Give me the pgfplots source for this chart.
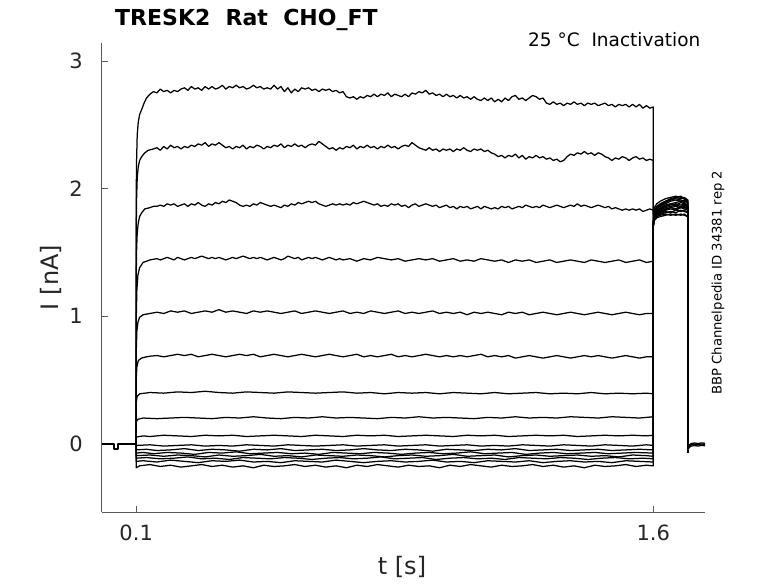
\documentclass[border=0pt]{standalone}
\usepackage{fontspec}
\setmainfont{DejaVu Sans}
\usepackage{pgfplots}
\pgfplotsset{compat=1.18}
\definecolor{axc}{RGB}{90,90,90}
\definecolor{txc}{RGB}{38,38,38}
\pgfplotscreateplotcyclelist{blk}{black,solid,mark=none,line width=1.25pt,line join=round\\}
\begin{document}
\begin{tikzpicture}
\useasboundingbox (0,0) rectangle (778pt,583pt);
\begin{axis}[
  at={(101.7pt,71pt)}, anchor=south west,
  scale only axis, width=603.3pt, height=468.7pt,
  xmin=0, xmax=1.75, ymin=-0.537, ymax=3.139,
  axis x line=bottom, axis y line=left,
  axis line style={draw=axc, line width=0.7pt, -},
  xtick={0.1,1.6}, ytick={0,1,2,3},
  xticklabels={0.1,1.6},
  tick align=inside, major tick length=6pt,
  tick style={draw=axc, line width=0.7pt},
  ticklabel style={font=\fontsize{21}{25}\selectfont, text=txc},
  xticklabel style={inner sep=0pt, yshift=-13pt},
  yticklabel style={inner sep=0pt, xshift=-18.7pt},
  /pgf/number format/assume math mode=true,
  cycle list name=blk,
]
% holding
\addplot+[line width=1.8pt] coordinates {(0,-0.005)(0.036,-0.005)(0.036,-0.045)(0.047,-0.045)(0.047,-0.005)(0.1,-0.005)};
% trace 1
\addplot coordinates {(0.1,0)(0.1,1.9)(0.101,2.2)(0.103,2.42)(0.106,2.52)(0.11,2.58)(0.116,2.62)(0.123,2.67)(0.13,2.71)(0.14,2.74)(0.15,2.76)
(0.16,2.75)(0.17,2.78)(0.18,2.76)(0.19,2.77)(0.20,2.75)(0.21,2.77)(0.22,2.76)(0.23,2.78)(0.24,2.79)(0.25,2.77)(0.26,2.80)(0.27,2.78)(0.28,2.79)(0.29,2.77)(0.30,2.80)(0.31,2.78)(0.32,2.80)(0.33,2.78)(0.34,2.79)(0.35,2.81)(0.36,2.78)(0.37,2.80)(0.38,2.79)(0.39,2.81)(0.40,2.79)(0.41,2.80)(0.42,2.78)(0.43,2.79)(0.44,2.81)(0.45,2.79)(0.46,2.80)(0.47,2.78)(0.48,2.79)(0.49,2.78)(0.50,2.81)(0.51,2.78)(0.52,2.80)(0.53,2.76)(0.54,2.79)(0.55,2.75)(0.56,2.78)(0.57,2.76)(0.58,2.79)(0.59,2.78)(0.60,2.79)(0.61,2.77)(0.62,2.78)(0.63,2.76)(0.64,2.78)(0.65,2.77)(0.66,2.78)(0.67,2.76)(0.68,2.77)(0.69,2.75)(0.70,2.76)(0.71,2.72)(0.72,2.71)(0.73,2.72)(0.74,2.70)(0.75,2.72)(0.76,2.71)(0.77,2.73)(0.78,2.72)(0.79,2.74)(0.80,2.72)(0.81,2.74)(0.82,2.73)(0.83,2.75)(0.84,2.72)(0.85,2.74)(0.86,2.73)(0.87,2.72)(0.88,2.74)(0.89,2.72)(0.90,2.75)(0.91,2.74)(0.92,2.76)(0.93,2.75)(0.94,2.77)(0.95,2.74)(0.96,2.75)(0.97,2.73)(0.98,2.74)(0.99,2.72)(1.00,2.74)(1.01,2.72)(1.02,2.73)(1.03,2.71)(1.04,2.73)(1.05,2.71)(1.06,2.72)(1.07,2.70)(1.08,2.72)(1.09,2.70)(1.10,2.69)(1.11,2.71)(1.12,2.69)(1.13,2.71)(1.14,2.68)(1.15,2.70)(1.16,2.68)(1.17,2.71)(1.18,2.69)(1.19,2.72)(1.20,2.73)(1.21,2.70)(1.22,2.71)(1.23,2.69)(1.24,2.71)(1.25,2.73)(1.26,2.72)(1.27,2.70)(1.28,2.71)(1.29,2.67)(1.30,2.66)(1.31,2.68)(1.32,2.66)(1.33,2.67)(1.34,2.65)(1.35,2.67)(1.36,2.66)(1.37,2.68)(1.38,2.66)(1.39,2.67)(1.40,2.65)(1.41,2.67)(1.42,2.66)(1.43,2.67)(1.44,2.65)(1.45,2.66)(1.46,2.67)(1.47,2.65)(1.48,2.66)(1.49,2.64)(1.50,2.66)(1.51,2.65)(1.52,2.66)(1.53,2.64)(1.54,2.66)(1.55,2.64)(1.56,2.66)(1.57,2.63)(1.58,2.65)(1.59,2.63)(1.60,2.64)
(1.6,1.80)(1.603,1.85)(1.61,1.88)(1.62,1.90)(1.635,1.92)(1.65,1.93)(1.665,1.94)(1.68,1.93)(1.69,1.92)(1.7,1.91)(1.7,-0.07)};
% trace 2
\addplot coordinates {(0.1,0)(0.1,1.6)(0.101,1.9)(0.103,2.08)(0.106,2.17)(0.11,2.22)(0.116,2.25)(0.125,2.28)(0.135,2.30)(0.15,2.31)
(0.16,2.32)(0.17,2.30)(0.18,2.33)(0.19,2.31)(0.20,2.34)(0.21,2.32)(0.22,2.33)(0.23,2.31)(0.24,2.33)(0.25,2.32)(0.26,2.34)(0.27,2.33)(0.28,2.35)(0.29,2.34)(0.30,2.36)(0.31,2.33)(0.32,2.35)(0.33,2.34)(0.34,2.36)(0.35,2.34)(0.36,2.32)(0.37,2.33)(0.38,2.31)(0.39,2.33)(0.40,2.32)(0.41,2.34)(0.42,2.31)(0.43,2.33)(0.44,2.32)(0.45,2.34)(0.46,2.33)(0.47,2.31)(0.48,2.33)(0.49,2.32)(0.50,2.34)(0.51,2.33)(0.52,2.35)(0.53,2.32)(0.54,2.34)(0.55,2.33)(0.56,2.35)(0.57,2.33)(0.58,2.34)(0.59,2.32)(0.60,2.34)(0.61,2.35)(0.62,2.34)(0.63,2.37)(0.64,2.35)(0.65,2.33)(0.66,2.31)(0.67,2.32)(0.68,2.30)(0.69,2.32)(0.70,2.31)(0.71,2.33)(0.72,2.32)(0.73,2.34)(0.74,2.31)(0.75,2.33)(0.76,2.32)(0.77,2.34)(0.78,2.32)(0.79,2.33)(0.80,2.31)(0.81,2.33)(0.82,2.32)(0.83,2.34)(0.84,2.32)(0.85,2.33)(0.86,2.31)(0.87,2.33)(0.88,2.34)(0.89,2.33)(0.90,2.36)(0.91,2.34)(0.92,2.32)(0.93,2.31)(0.94,2.30)(0.95,2.32)(0.96,2.30)(0.97,2.31)(0.98,2.29)(0.99,2.31)(1.00,2.30)(1.01,2.31)(1.02,2.29)(1.03,2.31)(1.04,2.30)(1.05,2.32)(1.06,2.30)(1.07,2.29)(1.08,2.31)(1.09,2.30)(1.10,2.31)(1.11,2.29)(1.12,2.30)(1.13,2.28)(1.14,2.27)(1.15,2.25)(1.16,2.26)(1.17,2.24)(1.18,2.26)(1.19,2.25)(1.20,2.27)(1.21,2.24)(1.22,2.26)(1.23,2.23)(1.24,2.25)(1.25,2.24)(1.26,2.26)(1.27,2.24)(1.28,2.25)(1.29,2.23)(1.30,2.24)(1.31,2.22)(1.32,2.23)(1.33,2.21)(1.34,2.22)(1.35,2.25)(1.36,2.27)(1.37,2.26)(1.38,2.28)(1.39,2.27)(1.40,2.29)(1.41,2.27)(1.42,2.28)(1.43,2.26)(1.44,2.28)(1.45,2.27)(1.46,2.25)(1.47,2.24)(1.48,2.22)(1.49,2.24)(1.50,2.23)(1.51,2.25)(1.52,2.24)(1.53,2.22)(1.54,2.24)(1.55,2.25)(1.56,2.23)(1.57,2.24)(1.58,2.22)(1.59,2.23)(1.60,2.22)
(1.6,1.78)(1.603,1.83)(1.61,1.86)(1.62,1.88)(1.635,1.90)(1.65,1.91)(1.665,1.92)(1.68,1.91)(1.69,1.90)(1.7,1.89)(1.7,-0.07)};
% trace 3
\addplot coordinates {(0.1,0)(0.1,1.25)(0.101,1.5)(0.103,1.65)(0.106,1.73)(0.11,1.78)(0.116,1.81)(0.125,1.84)(0.14,1.85)(0.15,1.86)
(0.16,1.86)(0.17,1.87)(0.18,1.86)(0.19,1.88)(0.20,1.87)(0.21,1.88)(0.22,1.86)(0.23,1.87)(0.24,1.88)(0.25,1.86)(0.26,1.88)(0.27,1.87)(0.28,1.89)(0.29,1.87)(0.30,1.86)(0.31,1.88)(0.32,1.87)(0.33,1.89)(0.34,1.88)(0.35,1.90)(0.36,1.89)(0.37,1.91)(0.38,1.90)(0.39,1.89)(0.40,1.87)(0.41,1.86)(0.42,1.87)(0.43,1.86)(0.44,1.88)(0.45,1.87)(0.46,1.89)(0.47,1.88)(0.48,1.87)(0.49,1.86)(0.50,1.87)(0.51,1.86)(0.52,1.85)(0.53,1.87)(0.54,1.86)(0.55,1.88)(0.56,1.87)(0.57,1.89)(0.58,1.88)(0.59,1.89)(0.60,1.90)(0.61,1.89)(0.62,1.90)(0.63,1.88)(0.64,1.87)(0.65,1.86)(0.66,1.87)(0.67,1.88)(0.68,1.87)(0.69,1.88)(0.70,1.87)(0.71,1.88)(0.72,1.87)(0.73,1.89)(0.74,1.88)(0.75,1.89)(0.76,1.90)(0.77,1.89)(0.78,1.88)(0.79,1.87)(0.80,1.88)(0.81,1.86)(0.82,1.87)(0.83,1.86)(0.84,1.88)(0.85,1.87)(0.86,1.88)(0.87,1.86)(0.88,1.87)(0.89,1.85)(0.90,1.87)(0.91,1.88)(0.92,1.86)(0.93,1.87)(0.94,1.88)(0.95,1.87)(0.96,1.86)(0.97,1.87)(0.98,1.85)(0.99,1.86)(1.00,1.87)(1.01,1.85)(1.02,1.86)(1.03,1.84)(1.04,1.86)(1.05,1.85)(1.06,1.86)(1.07,1.84)(1.08,1.85)(1.09,1.86)(1.10,1.84)(1.11,1.86)(1.12,1.85)(1.13,1.84)(1.14,1.85)(1.15,1.84)(1.16,1.86)(1.17,1.85)(1.18,1.86)(1.19,1.84)(1.20,1.85)(1.21,1.86)(1.22,1.85)(1.23,1.87)(1.24,1.86)(1.25,1.85)(1.26,1.86)(1.27,1.85)(1.28,1.87)(1.29,1.86)(1.30,1.85)(1.31,1.86)(1.32,1.87)(1.33,1.86)(1.34,1.85)(1.35,1.86)(1.36,1.87)(1.37,1.86)(1.38,1.88)(1.39,1.86)(1.40,1.87)(1.41,1.86)(1.42,1.85)(1.43,1.86)(1.44,1.87)(1.45,1.86)(1.46,1.85)(1.47,1.86)(1.48,1.84)(1.49,1.85)(1.50,1.84)(1.51,1.83)(1.52,1.84)(1.53,1.83)(1.54,1.84)(1.55,1.83)(1.56,1.84)(1.57,1.82)(1.58,1.83)(1.59,1.84)(1.60,1.83)
(1.6,1.76)(1.603,1.81)(1.61,1.85)(1.62,1.87)(1.635,1.90)(1.65,1.92)(1.665,1.93)(1.68,1.94)(1.69,1.92)(1.7,1.90)(1.7,-0.07)};
% trace 4
\addplot coordinates {(0.1,0)(0.1,0.95)(0.102,1.2)(0.105,1.32)(0.11,1.38)(0.12,1.42)(0.13,1.43)(0.14,1.44)
(0.16,1.45)(0.17,1.44)(0.18,1.45)(0.19,1.46)(0.20,1.45)(0.21,1.44)(0.22,1.46)(0.23,1.45)(0.24,1.44)(0.25,1.45)(0.26,1.46)(0.27,1.45)(0.28,1.46)(0.29,1.47)(0.30,1.46)(0.31,1.45)(0.32,1.46)(0.33,1.45)(0.34,1.46)(0.35,1.45)(0.36,1.44)(0.37,1.45)(0.38,1.46)(0.39,1.45)(0.40,1.46)(0.41,1.47)(0.42,1.46)(0.43,1.45)(0.44,1.46)(0.45,1.45)(0.46,1.46)(0.47,1.45)(0.48,1.44)(0.49,1.45)(0.50,1.46)(0.51,1.45)(0.52,1.44)(0.53,1.45)(0.54,1.47)(0.55,1.46)(0.56,1.45)(0.57,1.46)(0.58,1.44)(0.59,1.45)(0.60,1.46)(0.61,1.45)(0.62,1.46)(0.63,1.45)(0.64,1.44)(0.65,1.45)(0.66,1.46)(0.67,1.45)(0.68,1.44)(0.69,1.45)(0.70,1.44)(0.72,1.45)(0.74,1.43)(0.76,1.45)(0.78,1.44)(0.80,1.46)(0.82,1.45)(0.84,1.44)(0.86,1.45)(0.88,1.43)(0.90,1.44)(0.92,1.45)(0.94,1.44)(0.96,1.45)(0.98,1.43)(1.00,1.44)(1.02,1.45)(1.04,1.43)(1.06,1.44)(1.08,1.43)(1.10,1.45)(1.12,1.44)(1.14,1.43)(1.16,1.44)(1.18,1.42)(1.20,1.44)(1.22,1.43)(1.24,1.44)(1.26,1.42)(1.28,1.43)(1.30,1.44)(1.32,1.42)(1.34,1.43)(1.36,1.44)(1.38,1.43)(1.40,1.42)(1.42,1.44)(1.44,1.43)(1.46,1.42)(1.48,1.43)(1.50,1.44)(1.52,1.42)(1.54,1.43)(1.56,1.44)(1.58,1.42)(1.60,1.43)
(1.6,1.74)(1.603,1.79)(1.61,1.82)(1.62,1.84)(1.635,1.86)(1.65,1.87)(1.665,1.88)(1.68,1.87)(1.69,1.88)(1.7,1.86)(1.7,-0.07)};
% trace 5
\addplot coordinates {(0.1,0)(0.1,0.7)(0.102,0.88)(0.105,0.95)(0.11,0.99)(0.12,1.01)(0.14,1.02)
(0.16,1.03)(0.18,1.02)(0.20,1.04)(0.22,1.03)(0.24,1.04)(0.26,1.02)(0.28,1.03)(0.30,1.04)(0.32,1.03)(0.34,1.05)(0.36,1.03)(0.38,1.04)(0.40,1.03)(0.42,1.02)(0.44,1.04)(0.46,1.03)(0.48,1.04)(0.50,1.03)(0.52,1.02)(0.54,1.03)(0.56,1.04)(0.58,1.02)(0.60,1.03)(0.62,1.04)(0.64,1.03)(0.66,1.02)(0.68,1.03)(0.70,1.04)(0.72,1.02)(0.74,1.03)(0.76,1.02)(0.78,1.04)(0.80,1.03)(0.82,1.02)(0.84,1.03)(0.86,1.04)(0.88,1.02)(0.90,1.03)(0.92,1.02)(0.94,1.03)(0.96,1.04)(0.98,1.02)(1.00,1.03)(1.02,1.02)(1.04,1.03)(1.06,1.01)(1.08,1.03)(1.10,1.02)(1.12,1.03)(1.14,1.02)(1.16,1.01)(1.18,1.03)(1.20,1.02)(1.22,1.03)(1.24,1.01)(1.26,1.02)(1.28,1.03)(1.30,1.02)(1.32,1.01)(1.34,1.02)(1.36,1.03)(1.38,1.02)(1.40,1.01)(1.42,1.02)(1.44,1.03)(1.46,1.02)(1.48,1.01)(1.50,1.02)(1.52,1.03)(1.54,1.02)(1.56,1.01)(1.58,1.02)(1.60,1.02)
(1.6,1.72)(1.603,1.77)(1.61,1.80)(1.62,1.82)(1.635,1.83)(1.65,1.85)(1.665,1.84)(1.68,1.86)(1.69,1.85)(1.7,1.84)(1.7,-0.07)};
% trace 6
\addplot coordinates {(0.1,0)(0.1,0.5)(0.102,0.6)(0.106,0.65)(0.115,0.67)(0.13,0.68)
(0.14,0.685)(0.16,0.69)(0.18,0.68)(0.20,0.69)(0.22,0.70)(0.24,0.69)(0.26,0.70)(0.28,0.68)(0.30,0.69)(0.32,0.70)(0.34,0.69)(0.36,0.68)(0.38,0.69)(0.40,0.70)(0.42,0.69)(0.44,0.70)(0.46,0.68)(0.48,0.69)(0.50,0.70)(0.52,0.69)(0.54,0.68)(0.56,0.69)(0.58,0.70)(0.60,0.69)(0.62,0.68)(0.64,0.69)(0.66,0.70)(0.68,0.69)(0.70,0.68)(0.72,0.69)(0.74,0.70)(0.76,0.68)(0.78,0.69)(0.80,0.68)(0.82,0.69)(0.84,0.70)(0.86,0.68)(0.88,0.69)(0.90,0.68)(0.92,0.69)(0.94,0.70)(0.96,0.69)(0.98,0.68)(1.00,0.69)(1.02,0.68)(1.04,0.69)(1.06,0.68)(1.08,0.69)(1.10,0.70)(1.12,0.68)(1.14,0.69)(1.16,0.68)(1.18,0.69)(1.20,0.67)(1.22,0.68)(1.24,0.69)(1.26,0.68)(1.28,0.67)(1.30,0.68)(1.32,0.69)(1.34,0.68)(1.36,0.67)(1.38,0.68)(1.40,0.69)(1.42,0.68)(1.44,0.69)(1.46,0.68)(1.48,0.67)(1.50,0.68)(1.52,0.69)(1.54,0.68)(1.56,0.67)(1.58,0.68)(1.60,0.68)
(1.6,1.71)(1.603,1.76)(1.61,1.79)(1.62,1.80)(1.635,1.82)(1.65,1.81)(1.665,1.83)(1.68,1.82)(1.69,1.83)(1.7,1.81)(1.7,-0.07)};
% trace 7
\addplot coordinates {(0.1,0)(0.1,0.32)(0.103,0.37)(0.11,0.39)
(0.14,0.40)(0.18,0.395)(0.22,0.405)(0.26,0.40)(0.30,0.41)(0.34,0.40)(0.38,0.395)(0.42,0.405)(0.46,0.40)(0.50,0.395)(0.54,0.405)(0.58,0.40)(0.62,0.395)(0.66,0.40)(0.70,0.405)(0.74,0.395)(0.78,0.40)(0.82,0.39)(0.86,0.40)(0.90,0.395)(0.94,0.40)(0.98,0.39)(1.02,0.40)(1.06,0.395)(1.10,0.39)(1.14,0.40)(1.18,0.39)(1.22,0.395)(1.26,0.40)(1.30,0.39)(1.34,0.395)(1.38,0.39)(1.42,0.40)(1.46,0.39)(1.50,0.395)(1.54,0.39)(1.58,0.395)(1.60,0.39)
(1.6,1.70)(1.603,1.75)(1.61,1.78)(1.62,1.79)(1.635,1.80)(1.65,1.79)(1.665,1.80)(1.68,1.79)(1.69,1.80)(1.7,1.78)(1.7,-0.07)};
% trace 8
\addplot coordinates {(0.1,0)(0.1,0.17)(0.105,0.19)(0.12,0.20)
(0.16,0.195)(0.20,0.20)(0.24,0.205)(0.28,0.20)(0.32,0.195)(0.36,0.205)(0.40,0.20)(0.44,0.21)(0.48,0.20)(0.52,0.195)(0.56,0.205)(0.60,0.20)(0.64,0.21)(0.68,0.20)(0.72,0.205)(0.76,0.20)(0.80,0.195)(0.84,0.205)(0.88,0.20)(0.92,0.21)(0.96,0.20)(1.00,0.205)(1.04,0.20)(1.08,0.195)(1.12,0.205)(1.16,0.20)(1.20,0.21)(1.24,0.20)(1.28,0.205)(1.32,0.20)(1.36,0.21)(1.40,0.205)(1.44,0.20)(1.48,0.21)(1.52,0.205)(1.56,0.20)(1.60,0.21)
(1.6,1.72)(1.603,1.77)(1.61,1.80)(1.62,1.81)(1.635,1.83)(1.65,1.84)(1.665,1.83)(1.68,1.85)(1.69,1.84)(1.7,1.83)(1.7,-0.07)};
% trace 9
\addplot coordinates {(0.1,0)(0.1,0.05)(0.12,0.06)(0.14,0.055)(0.18,0.065)(0.22,0.06)(0.26,0.055)(0.30,0.065)(0.34,0.06)(0.38,0.065)(0.42,0.055)(0.46,0.06)(0.50,0.065)(0.54,0.06)(0.58,0.055)(0.62,0.065)(0.66,0.06)(0.70,0.055)(0.74,0.065)(0.78,0.06)(0.82,0.065)(0.86,0.055)(0.90,0.06)(0.94,0.065)(0.98,0.06)(1.02,0.055)(1.06,0.065)(1.10,0.06)(1.14,0.065)(1.18,0.055)(1.22,0.06)(1.26,0.065)(1.30,0.06)(1.34,0.065)(1.38,0.055)(1.42,0.06)(1.46,0.065)(1.50,0.06)(1.54,0.065)(1.58,0.06)(1.60,0.065)
(1.6,1.73)(1.603,1.78)(1.61,1.81)(1.62,1.83)(1.635,1.85)(1.65,1.86)(1.665,1.87)(1.68,1.86)(1.69,1.87)(1.7,1.85)(1.7,-0.07)};
% trace 10
\addplot coordinates {(0.1,0)(0.1,-0.015)(0.14,-0.01)(0.18,-0.02)(0.22,-0.015)(0.26,-0.01)(0.30,-0.02)(0.34,-0.015)(0.38,-0.02)(0.42,-0.01)(0.46,-0.015)(0.50,-0.02)(0.54,-0.01)(0.58,-0.015)(0.62,-0.02)(0.66,-0.015)(0.70,-0.01)(0.74,-0.02)(0.78,-0.015)(0.82,-0.01)(0.86,-0.02)(0.90,-0.015)(0.94,-0.01)(0.98,-0.02)(1.02,-0.015)(1.06,-0.01)(1.10,-0.02)(1.14,-0.015)(1.18,-0.02)(1.22,-0.01)(1.26,-0.015)(1.30,-0.02)(1.34,-0.01)(1.38,-0.015)(1.42,-0.02)(1.46,-0.01)(1.50,-0.015)(1.54,-0.02)(1.58,-0.01)(1.60,-0.015)
(1.6,1.75)(1.603,1.80)(1.61,1.83)(1.62,1.85)(1.635,1.87)(1.65,1.88)(1.665,1.89)(1.68,1.90)(1.69,1.89)(1.7,1.87)(1.7,-0.07)};
% trace 11
\addplot coordinates {(0.1,0)(0.1,-0.05)(0.13,-0.045)(0.16,-0.055)(0.20,-0.05)(0.24,-0.04)(0.28,-0.055)(0.32,-0.045)(0.36,-0.05)(0.40,-0.06)(0.44,-0.045)(0.48,-0.05)(0.52,-0.04)(0.56,-0.055)(0.60,-0.05)(0.64,-0.045)(0.68,-0.055)(0.72,-0.05)(0.76,-0.04)(0.80,-0.05)(0.84,-0.055)(0.88,-0.045)(0.92,-0.05)(0.96,-0.06)(1.00,-0.045)(1.04,-0.05)(1.08,-0.055)(1.12,-0.045)(1.16,-0.05)(1.20,-0.04)(1.24,-0.055)(1.28,-0.05)(1.32,-0.045)(1.36,-0.055)(1.40,-0.05)(1.44,-0.045)(1.48,-0.055)(1.52,-0.05)(1.56,-0.045)(1.60,-0.05)
(1.6,1.76)(1.603,1.81)(1.61,1.84)(1.62,1.86)(1.635,1.88)(1.65,1.90)(1.665,1.91)(1.68,1.90)(1.69,1.91)(1.7,1.89)(1.7,-0.07)};
% trace 12
\addplot coordinates {(0.1,0)(0.1,-0.075)(0.12,-0.07)(0.15,-0.08)(0.19,-0.07)(0.23,-0.075)(0.27,-0.085)(0.31,-0.07)(0.35,-0.075)(0.39,-0.065)(0.43,-0.08)(0.47,-0.075)(0.51,-0.07)(0.55,-0.08)(0.59,-0.075)(0.63,-0.085)(0.67,-0.07)(0.71,-0.075)(0.75,-0.08)(0.79,-0.07)(0.83,-0.075)(0.87,-0.085)(0.91,-0.075)(0.95,-0.07)(0.99,-0.08)(1.03,-0.075)(1.07,-0.065)(1.11,-0.08)(1.15,-0.075)(1.19,-0.07)(1.23,-0.085)(1.27,-0.075)(1.31,-0.07)(1.35,-0.08)(1.39,-0.075)(1.43,-0.07)(1.47,-0.08)(1.51,-0.075)(1.55,-0.07)(1.60,-0.075)
(1.6,1.77)(1.603,1.82)(1.61,1.85)(1.62,1.87)(1.635,1.89)(1.65,1.91)(1.665,1.93)(1.68,1.92)(1.69,1.93)(1.7,1.91)(1.7,-0.07)};
% trace 13
\addplot coordinates {(0.1,0)(0.1,-0.095)(0.14,-0.09)(0.18,-0.10)(0.22,-0.09)(0.26,-0.095)(0.30,-0.105)(0.34,-0.09)(0.38,-0.10)(0.42,-0.095)(0.46,-0.085)(0.50,-0.10)(0.54,-0.095)(0.58,-0.105)(0.62,-0.09)(0.66,-0.095)(0.70,-0.10)(0.74,-0.09)(0.78,-0.095)(0.82,-0.105)(0.86,-0.095)(0.90,-0.09)(0.94,-0.10)(0.98,-0.095)(1.02,-0.085)(1.06,-0.10)(1.10,-0.095)(1.14,-0.09)(1.18,-0.105)(1.22,-0.095)(1.26,-0.09)(1.30,-0.10)(1.34,-0.095)(1.38,-0.09)(1.42,-0.10)(1.46,-0.095)(1.50,-0.105)(1.54,-0.09)(1.58,-0.095)(1.60,-0.10)
(1.6,1.74)(1.603,1.79)(1.61,1.82)(1.62,1.84)(1.635,1.86)(1.65,1.88)(1.665,1.87)(1.68,1.89)(1.69,1.88)(1.7,1.86)(1.7,-0.07)};
% trace 14
\addplot coordinates {(0.1,0)(0.1,-0.115)(0.13,-0.11)(0.17,-0.12)(0.21,-0.115)(0.25,-0.105)(0.29,-0.12)(0.33,-0.115)(0.37,-0.125)(0.41,-0.11)(0.45,-0.115)(0.49,-0.12)(0.53,-0.11)(0.57,-0.115)(0.61,-0.125)(0.65,-0.115)(0.69,-0.11)(0.73,-0.12)(0.77,-0.115)(0.81,-0.105)(0.85,-0.12)(0.89,-0.115)(0.93,-0.11)(0.97,-0.125)(1.01,-0.115)(1.05,-0.11)(1.09,-0.12)(1.13,-0.115)(1.17,-0.125)(1.21,-0.11)(1.25,-0.115)(1.29,-0.12)(1.33,-0.11)(1.37,-0.115)(1.41,-0.125)(1.45,-0.115)(1.49,-0.11)(1.53,-0.12)(1.57,-0.115)(1.60,-0.12)
(1.6,1.73)(1.603,1.78)(1.61,1.81)(1.62,1.82)(1.635,1.84)(1.65,1.85)(1.665,1.86)(1.68,1.85)(1.69,1.86)(1.7,1.84)(1.7,-0.07)};
% trace 15
\addplot coordinates {(0.1,0)(0.1,-0.14)(0.12,-0.135)(0.16,-0.145)(0.20,-0.13)(0.24,-0.14)(0.28,-0.15)(0.32,-0.135)(0.36,-0.14)(0.40,-0.13)(0.44,-0.145)(0.48,-0.14)(0.52,-0.15)(0.56,-0.135)(0.60,-0.14)(0.64,-0.145)(0.68,-0.13)(0.72,-0.14)(0.76,-0.15)(0.80,-0.14)(0.84,-0.135)(0.88,-0.145)(0.92,-0.14)(0.96,-0.13)(1.00,-0.145)(1.04,-0.14)(1.08,-0.15)(1.12,-0.135)(1.16,-0.14)(1.20,-0.145)(1.24,-0.135)(1.28,-0.15)(1.32,-0.14)(1.36,-0.135)(1.40,-0.145)(1.44,-0.14)(1.48,-0.15)(1.52,-0.135)(1.56,-0.14)(1.60,-0.145)
(1.6,1.71)(1.603,1.76)(1.61,1.79)(1.62,1.80)(1.635,1.81)(1.65,1.82)(1.665,1.81)(1.68,1.83)(1.69,1.82)(1.7,1.81)(1.7,-0.07)};
% trace 16
\addplot coordinates {(0.1,0)(0.1,-0.19)(0.11,-0.175)(0.14,-0.165)(0.17,-0.18)(0.20,-0.17)(0.23,-0.185)(0.26,-0.175)(0.29,-0.165)(0.32,-0.18)(0.35,-0.17)(0.38,-0.185)(0.41,-0.175)(0.44,-0.19)(0.47,-0.17)(0.50,-0.18)(0.53,-0.175)(0.56,-0.165)(0.59,-0.18)(0.62,-0.17)(0.65,-0.185)(0.68,-0.175)(0.71,-0.19)(0.74,-0.17)(0.77,-0.18)(0.80,-0.165)(0.83,-0.175)(0.86,-0.185)(0.89,-0.17)(0.92,-0.18)(0.95,-0.175)(0.98,-0.19)(1.01,-0.17)(1.04,-0.18)(1.07,-0.165)(1.10,-0.175)(1.13,-0.185)(1.16,-0.17)(1.19,-0.18)(1.22,-0.175)(1.25,-0.165)(1.28,-0.18)(1.31,-0.17)(1.34,-0.185)(1.37,-0.175)(1.40,-0.19)(1.43,-0.17)(1.46,-0.18)(1.49,-0.175)(1.52,-0.165)(1.55,-0.18)(1.58,-0.17)(1.60,-0.175)
(1.6,1.70)(1.603,1.75)(1.61,1.77)(1.62,1.78)(1.635,1.79)(1.65,1.80)(1.665,1.79)(1.68,1.80)(1.69,1.79)(1.7,1.78)(1.7,-0.07)};
% final segment after the tail
\addplot coordinates {(1.7,-0.07)(1.701,-0.04)(1.704,-0.02)(1.71,-0.01)(1.72,-0.005)(1.73,-0.01)(1.74,-0.004)(1.75,-0.008)};
\addplot coordinates {(1.7,-0.07)(1.701,-0.05)(1.704,-0.03)(1.71,-0.02)(1.72,-0.016)(1.73,-0.02)(1.74,-0.014)(1.75,-0.018)};
\addplot coordinates {(1.7,-0.07)(1.701,-0.03)(1.704,-0.012)(1.71,0.0)(1.72,0.004)(1.73,0.0)(1.74,0.005)(1.75,0.002)};
\end{axis}
\node[anchor=base west, inner sep=0pt, font=\fontsize{22}{26}\selectfont\bfseries] at (115pt,557pt) {TRESK2\ \ Rat\ \ CHO\_FT};
\node[anchor=base west, inner sep=0pt, font=\fontsize{18.5}{22}\selectfont] at (528pt,536.3pt) {25 °C\ \ Inactivation};
\node[anchor=base west, inner sep=0pt, rotate=90, font=\fontsize{13.2}{16}\selectfont] at (721.7pt,188pt) {BBP Channelpedia ID 34381 rep 2};
\node[anchor=base, inner sep=0pt, font=\fontsize{24}{28}\selectfont, text=txc] at (402pt,9pt) {t [s]};
\node[anchor=base, inner sep=0pt, rotate=90, font=\fontsize{24}{28}\selectfont, text=txc] at (58.3pt,305.5pt) {I [nA]};
\end{tikzpicture}
\end{document}
